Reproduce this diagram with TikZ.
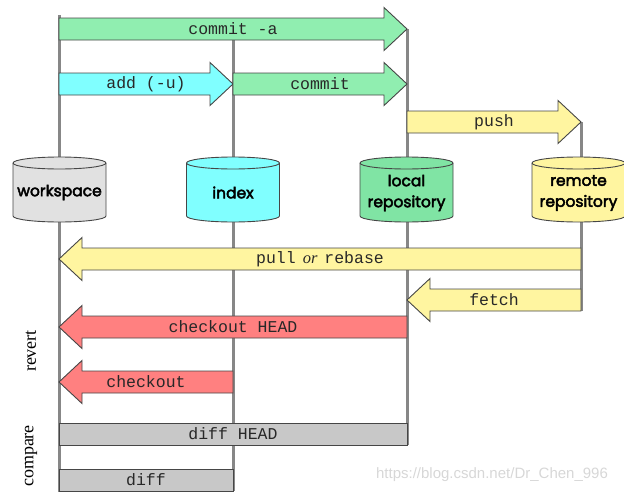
\documentclass[tikz,border=0pt]{standalone}
\usepackage{fontspec}
\setmainfont{Liberation Serif}
\newfontfamily\cmdfont{Liberation Mono}
\newfontfamily\cylfont[FakeBold=3]{Poppins}
\newfontfamily\wmfont{Liberation Sans}
\definecolor{linegray}{RGB}{135,135,135}
\definecolor{edge}{RGB}{70,70,70}
\definecolor{txt}{RGB}{40,40,40}
\definecolor{agreen}{RGB}{144,238,176}
\definecolor{cgreen}{RGB}{128,228,164}
\definecolor{acyan}{RGB}{128,255,255}
\definecolor{ayellow}{RGB}{255,245,160}
\definecolor{ared}{RGB}{255,128,128}
\definecolor{agray}{RGB}{200,200,200}
\definecolor{cgray}{RGB}{225,225,225}
\def\bh{11}
\def\hh{21.5}
\def\hl{23}
\def\cyla{46.5}
\def\cylh{32.5}
\def\cylr{6}
\tikzset{
  vline/.style={draw=linegray, line width=3pt},
  bar/.style={draw=edge, line width=0.9pt, line join=miter},
  cmd/.style={font=\cmdfont\fontsize{16.5}{18}\selectfont, text=txt, inner sep=0pt},
  cylbox/.style={draw=none, minimum width=93pt, minimum height=65pt, inner sep=0pt},
  cylline/.style={draw=edge, line width=0.9pt},
  cyllabel/.style={font=\cylfont\fontsize{15.5}{21}\selectfont, text=black, align=center, inner sep=0pt},
  side/.style={font=\fontsize{18}{20}\selectfont, rotate=90, text=black, inner sep=0pt}
}
\newcommand\arrR[6]{%
  \filldraw[bar, fill=#5] (#2,{#4-\bh}) -- ({#3-\hl},{#4-\bh}) -- ({#3-\hl},{#4-\hh}) -- (#3,#4)
     -- ({#3-\hl},{#4+\hh}) -- ({#3-\hl},{#4+\bh}) -- (#2,{#4+\bh}) -- cycle;
  \node[cmd] (#1) at ({(#2+#3)/2},#4) {#6};}
\newcommand\arrL[6]{%
  \filldraw[bar, fill=#5] (#2,{#4-\bh}) -- ({#3+\hl},{#4-\bh}) -- ({#3+\hl},{#4-\hh}) -- (#3,#4)
     -- ({#3+\hl},{#4+\hh}) -- ({#3+\hl},{#4+\bh}) -- (#2,{#4+\bh}) -- cycle;
  \node[cmd] (#1) at ({(#2+#3)/2},#4) {#6};}
% name, cx, cy, colour  (radii in pt: page orientation, 270 = down)
\newcommand\cylnode[4]{%
  \node[cylbox] (#1) at (#2,#3) {};
  \filldraw[cylline, fill=#4] ({#2-\cyla},{#3-\cylh+\cylr}) -- ({#2-\cyla},{#3+\cylh-\cylr})
     arc (180:360:\cyla pt and \cylr pt) -- ({#2+\cyla},{#3-\cylh+\cylr})
     arc (0:180:\cyla pt and \cylr pt) -- cycle;
  \draw[cylline] ({#2-\cyla},{#3-\cylh+\cylr}) arc (180:360:\cyla pt and \cylr pt);}
\begin{document}
\begin{tikzpicture}[x=1pt,y=-1pt]
\useasboundingbox (0,0) rectangle (624,493);
% vertical lines
\coordinate (ws-top) at (59,15);   \coordinate (ws-bot) at (59,492);
\coordinate (ix-top) at (233,40);  \coordinate (ix-bot) at (233,491);
\coordinate (lr-top) at (407,29);  \coordinate (lr-bot) at (407,445);
\coordinate (rr-top) at (581,122); \coordinate (rr-bot) at (581,311);
\draw[vline] (ws-top) -- (ws-bot);
\draw[vline] (ix-top) -- (ix-bot);
\draw[vline] (lr-top) -- (lr-bot);
\draw[vline] (rr-top) -- (rr-bot);
% repositories
\cylnode{workspace}{59.5}{189.5}{cgray}
\cylnode{index}{233}{189.5}{acyan}
\cylnode{local}{406.5}{189.5}{cgreen}
\cylnode{remote}{578.5}{189.5}{ayellow}
\node[cyllabel] (workspace-l) at (59.5,192.5) {workspace};
\node[cyllabel] (index-l) at (233,192.5) {index};
\node[cyllabel] (local-l) at (406.5,193) {local\\repository};
\node[cyllabel] (remote-l) at (578.5,193) {remote\\repository};
% arrows
\arrR{commita}{59}{407}{29}{agreen}{commit -a}
\arrR{add}{59}{233}{84}{acyan}{add (-u)}
\arrR{commit}{233}{407}{84}{agreen}{commit}
\arrR{push}{407}{581}{122}{ayellow}{push}
\arrL{pull}{581}{59}{259}{ayellow}{pull\hspace{7pt}{\rmfamily\itshape or}\hspace{7pt}rebase}
\arrL{fetch}{581}{407}{300}{ayellow}{fetch}
\arrL{checkouthead}{407}{59}{327}{ared}{checkout HEAD}
\arrL{checkout}{233}{59}{382}{ared}{checkout}
\filldraw[bar, fill=agray] (59,423) rectangle (407,445);
\node[cmd] (diffhead) at (233,434) {diff HEAD};
\filldraw[bar, fill=agray] (59,469) rectangle (233,491);
\node[cmd] (diff) at (146,480) {diff};
% side labels
\node[side] (revert) at (31,351) {revert};
\node[side] (compare) at (31,456) {compare};
% watermark
\node[font=\wmfont\fontsize{15}{16}\selectfont, text={rgb,255:red,215;green,215;blue,215}, inner sep=0pt] (wm) at (492,475) {https://blog.csdn.net/Dr\_Chen\_996};
\end{tikzpicture}
\end{document}
